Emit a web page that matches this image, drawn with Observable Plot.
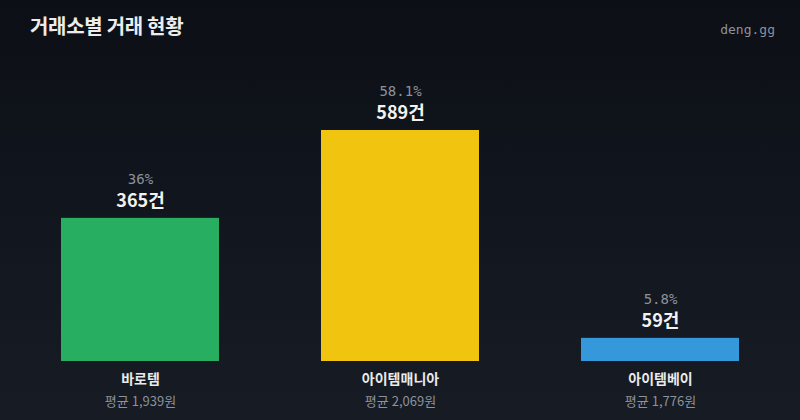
<!DOCTYPE html>
<html>
<head>
<meta charset="utf-8">
<script src="https://cdn.jsdelivr.net/npm/d3@7"></script>
<script src="https://cdn.jsdelivr.net/npm/@observablehq/plot@0.6"></script>
<style>
  html, body { margin: 0; padding: 0; }
  body {
    width: 800px; height: 420px; overflow: hidden;
    background: linear-gradient(180deg, #0c0f15 0%, #121720 60%, #161b24 100%);
    font-family: "Noto Sans CJK KR", "Noto Sans", sans-serif;
  }
  #header { position: relative; height: 50px; }
  #title { position: absolute; left: 30px; top: 12px; font-size: 20px; line-height: 28px; font-weight: 700; color: #ececec; letter-spacing: -0.3px; }
  #brand { position: absolute; right: 25px; top: 22px; font-family: "DejaVu Sans Mono", monospace; font-size: 13px; line-height: 16px; color: #8c929b; }
  #chart svg { display: block; }
</style>
</head>
<body>
<div id="header">
  <div id="title">거래소별 거래 현황</div>
  <div id="brand">deng.gg</div>
</div>
<div id="chart"></div>
<script>
const exchanges = ["바로템", "아이템매니아", "아이템베이"];
const counts = [365, 589, 59];
const percents = [36, 58.1, 5.8];
const avgPrices = [1939, 2069, 1776];
const barColors = ["#27ae60", "#f1c40f", "#3498db"];

const rows = exchanges.map((name, i) => ({
  name, count: counts[i], pct: percents[i], avg: avgPrices[i]
}));

const fmtPct = v => (Number.isInteger(v) ? String(v) : v.toFixed(1)) + "%";
const fmtAvg = v => "평균 " + d3.format(",")(v) + "원";

const chart = Plot.plot({
  width: 800,
  height: 370,
  marginLeft: 0,
  marginRight: 0,
  marginTop: 0,
  marginBottom: 0,
  style: { background: "transparent", overflow: "visible" },
  x: { domain: exchanges, range: [0, 800], paddingInner: 0.391, paddingOuter: 0.23, axis: null },
  y: { domain: [0, d3.max(counts)], range: [311, 80], axis: null },
  color: { domain: exchanges, range: barColors },
  marks: [
    Plot.barY(rows, { x: "name", y: "count", fill: "name" }),
    Plot.text(rows, {
      x: "name", y: "count", text: d => fmtPct(d.pct), dy: -39,
      fill: "#8c929b", fontSize: 14, fontFamily: "DejaVu Sans Mono, monospace"
    }),
    Plot.text(rows, {
      x: "name", y: "count", text: d => d.count + "건", dy: -17,
      fill: "#f2f2f2", fontSize: 18, fontWeight: 600, fontFamily: "Noto Sans CJK KR, sans-serif"
    }),
    Plot.text(rows, {
      x: "name", y: 0, text: "name", dy: 18,
      fill: "#eaeaea", fontSize: 14, fontWeight: 700, fontFamily: "Noto Sans CJK KR, sans-serif"
    }),
    Plot.text(rows, {
      x: "name", y: 0, text: d => fmtAvg(d.avg), dy: 40,
      fill: "#8c929b", fontSize: 13, fontFamily: "Noto Sans CJK KR, sans-serif"
    })
  ]
});
document.getElementById("chart").appendChild(chart);
</script>
</body>
</html>
